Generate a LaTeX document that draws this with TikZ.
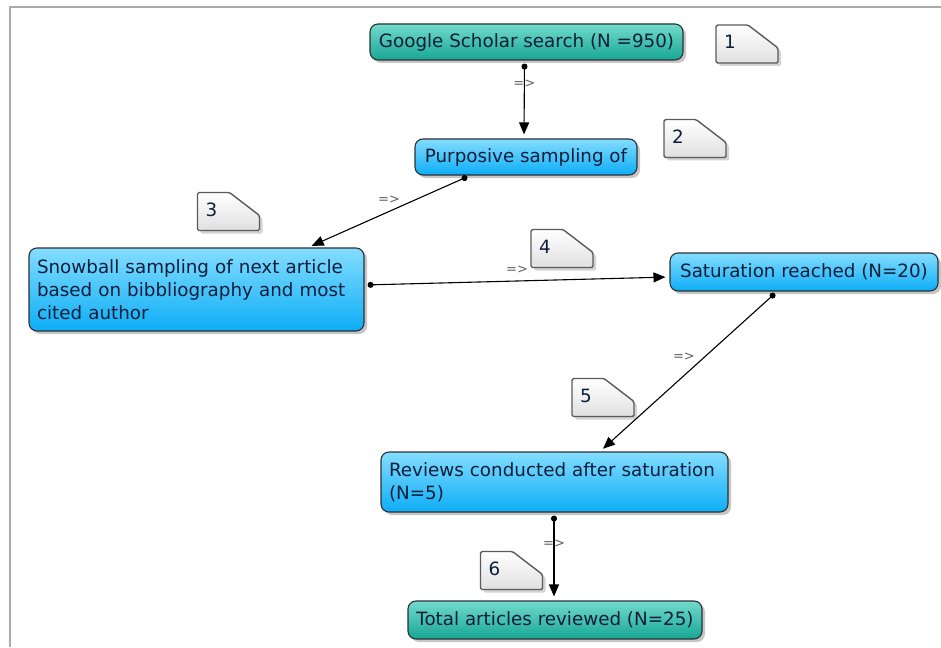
\documentclass[tikz,border=0pt]{standalone}
\usepackage{fontspec}
\setmainfont{DejaVu Sans}
\usetikzlibrary{arrows.meta, shadows}
\definecolor{tealtop}{HTML}{72DACC}
\definecolor{tealbot}{HTML}{17A693}
\definecolor{bluetop}{HTML}{84DDFF}
\definecolor{bluebot}{HTML}{0CADF6}
\definecolor{boxline}{HTML}{2B3035}
\definecolor{boxtext}{HTML}{0C1E3A}
\definecolor{notefill}{HTML}{E0E0E0}
\definecolor{noteline}{HTML}{5A5A5A}
\definecolor{labelgray}{HTML}{606060}
\definecolor{framegray}{HTML}{AAAAAA}

\begin{document}
\begin{tikzpicture}[
    x=1pt, y=1pt,
    font=\fontsize{18.3}{23}\selectfont,
    box/.style={
        draw=boxline, line width=1.1pt, rounded corners=8pt,
        text=boxtext, inner sep=8pt,
        drop shadow={shadow xshift=3pt, shadow yshift=-3pt, opacity=.45}
    },
    tealbox/.style={box, top color=tealtop, bottom color=tealbot},
    bluebox/.style={box, top color=bluetop, bottom color=bluebot},
    notebody/.style={
        draw=noteline, line width=1.4pt, rounded corners=1.5pt,
        top color=white, bottom color=notefill,
        drop shadow={shadow xshift=3pt, shadow yshift=-3pt, opacity=.35}
    },
    notenum/.style={text=boxtext, inner sep=0pt},
    link/.style={
        {Circle[length=6pt]}-{Triangle[length=12pt,width=10pt]},
        line width=1.1pt, shorten <=3pt, shorten >=4pt
    },
    arrowlabel/.style={font=\fontsize{13}{13}\selectfont, text=labelgray, inner sep=1pt}
]
    \useasboundingbox (0,0) rectangle (941,-647);
    \draw[framegray, line width=2pt] (941,-7) -- (10,-7) -- (10,-647);

    % boxes
    \node[tealbox, minimum width=313pt, minimum height=36pt] (gs) at (526.5,-42) {Google Scholar search (N =950)};
    \node[bluebox, minimum width=222pt, minimum height=36pt] (purp) at (526,-157) {Purposive sampling of};
    \node[bluebox, minimum width=335pt, minimum height=83pt, text width=319pt, align=left] (snow) at (196.5,-289.5)
        {Snowball sampling of next article\\based on bibbliography and most\\cited author};
    \node[bluebox, minimum width=268pt, minimum height=38pt] (sat) at (804,-272) {Saturation reached (N=20)};
    \node[bluebox, minimum width=347pt, minimum height=60pt, text width=331pt, align=left] (rev) at (554.5,-482)
        {Reviews conducted after saturation\\(N=5)};
    \node[tealbox, minimum width=294pt, minimum height=38pt] (tot) at (555,-620) {Total articles reviewed (N=25)};

    % numbered notes
    \foreach \i/\x/\y in {1/747/-44, 2/695/-138.5, 3/228.5/-211.5, 4/562/-248.5, 5/603/-397.5, 6/511.5/-570.5} {
        \path[notebody] (\x-31,\y+19) -- (\x+1,\y+19) -- (\x+31,\y-4) -- (\x+31,\y-19) -- (\x-31,\y-19) -- cycle;
        \node[notenum] (n\i) at (\x-17,\y+2) {\i};
    }

    % connectors
    \draw[link] ([xshift=-2pt]gs.south) -- node[pos=.3, arrowlabel] {=>} ([xshift=-2pt]purp.north);
    \draw[link] ([xshift=-56pt]purp.south) -- node[pos=.5, arrowlabel, above=6pt] {=>} ([xshift=111.5pt]snow.north);
    \draw[link] ([yshift=4.5pt]snow.east) -- node[pos=.5, arrowlabel, above=6pt] {=>} ([yshift=-5pt]sat.west);
    \draw[link] ([xshift=-27pt]sat.south) -- node[pos=.41, arrowlabel, left=8pt] {=>} ([xshift=45.5pt]rev.north);
    \draw[link] ([xshift=-0.5pt]rev.south) -- node[pos=.35, arrowlabel] {=>} ([xshift=-1pt]tot.north);
\end{tikzpicture}
\end{document}
